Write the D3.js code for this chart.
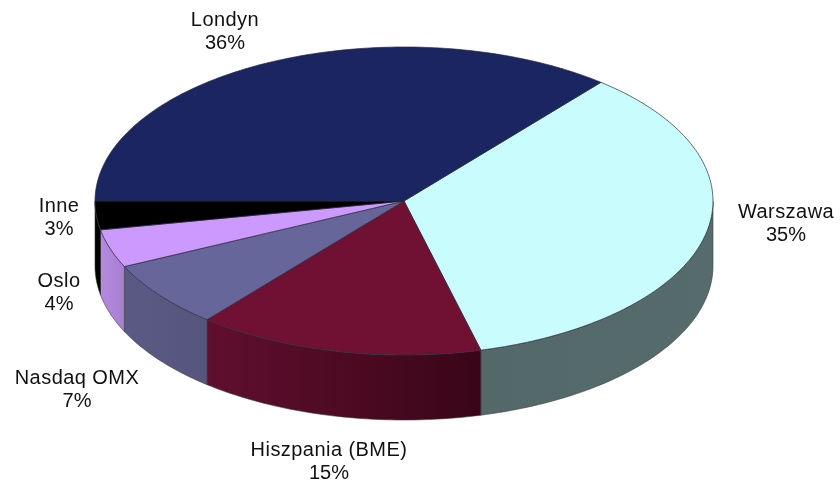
<!DOCTYPE html>
<html><head><meta charset="utf-8">
<script src="https://cdn.jsdelivr.net/npm/d3@7"></script>
<style>html,body{margin:0;background:#fff}svg{display:block;filter:blur(0.4px)}text{font-family:"Liberation Sans",Arial,sans-serif;font-size:20px;fill:#111}</style>
</head><body><svg id="c" width="840" height="485"></svg>
<script>
const categories=["Warszawa","Hiszpania (BME)","Nasdaq OMX","Oslo","Inne","Londyn"];
const values=[35,15,7,4,3,36];
const topColors=["#c9fcfc","#701134","#66669a","#cc99ff","#000000","#1a2561"];
const wallLeft=["#536868","#600f2e","#5a5a86","#b48ae0","#000000","#10183f"];
const wallRight=["#566c6c","#3a0518","#55557e","#a87fd2","#000000","#10183f"];
const labelPos=[[786,218],[329,456],[77,384],[59,287],[59,212],[225,26]];

const cx=404,cy=201,rx=309,ry=154,depth=65,startDeg=39.6;
const svg=d3.select("#c");
const defs=svg.append("defs");
const pie=d3.pie().sort(null).value(d=>d).startAngle(startDeg*Math.PI/180).endAngle((startDeg+360)*Math.PI/180);
const arcs=pie(values);
const px=a=>cx+rx*Math.sin(a), py=a=>cy-ry*Math.cos(a);
const ellArc=(a0,a1,dy,move)=>{
  const n=Math.max(2,Math.ceil(Math.abs(a1-a0)/0.02));let s="";
  for(let i=0;i<=n;i++){const a=a0+(a1-a0)*i/n;s+=((i==0&&move)?"M":"L")+px(a).toFixed(2)+","+(py(a)+dy).toFixed(2);}
  return s;
};
const FL=Math.PI/2,FR=3*Math.PI/2;
arcs.forEach((d,i)=>{
  let a0=d.startAngle,a1=d.endAngle;
  const ranges=[[FL,FR],[FL+2*Math.PI,FR+2*Math.PI]];
  ranges.forEach(r=>{
    const b0=Math.max(a0,r[0]),b1=Math.min(a1,r[1]);
    if(b1<=b0)return;
    const id="w"+i;
    const g=defs.append("linearGradient").attr("id",id).attr("gradientUnits","userSpaceOnUse")
      .attr("x1",px(b0)).attr("x2",px(b1)).attr("y1",0).attr("y2",0);
    g.append("stop").attr("offset",0).attr("stop-color",wallRight[i]);
    g.append("stop").attr("offset",1).attr("stop-color",wallLeft[i]);
    svg.append("path").attr("d",ellArc(b0,b1,0,true)+ellArc(b1,b0,depth,false)+"Z")
      .attr("fill","url(#"+id+")").attr("stroke","#3a3a3a").attr("stroke-width",0.6).attr("stroke-linejoin","round");
  });
});
arcs.forEach((d,i)=>{
  svg.append("path").attr("d","M"+cx+","+cy+ellArc(d.startAngle,d.endAngle,0,false)+"Z")
    .attr("fill",topColors[i]).attr("stroke","#2a2a3a").attr("stroke-width",0.7).attr("stroke-linejoin","round");
});
categories.forEach((c,i)=>{
  const t=svg.append("text").attr("text-anchor","middle").attr("x",labelPos[i][0]).attr("y",labelPos[i][1]);
  t.append("tspan").attr("x",labelPos[i][0]).attr("letter-spacing",0.45).text(c);
  t.append("tspan").attr("x",labelPos[i][0]).attr("dy",22.5).text(values[i]+"%");
});
</script></body></html>
